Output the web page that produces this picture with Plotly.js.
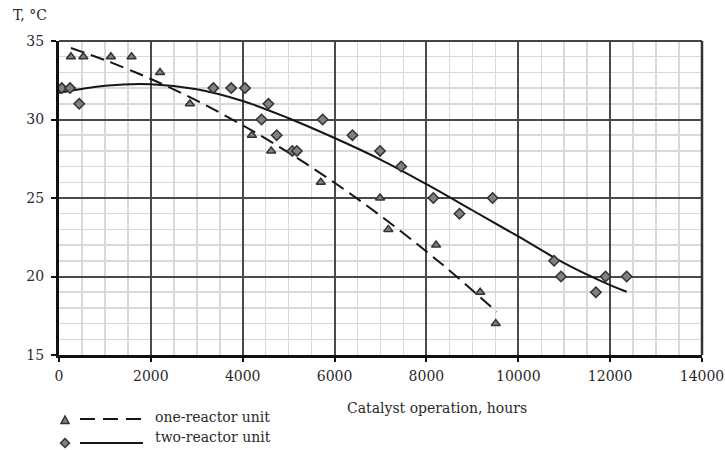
<!DOCTYPE html>
<html>
<head>
<meta charset="utf-8">
<script src="https://cdn.plot.ly/plotly-3.0.1.min.js"></script>
<style>html,body{margin:0;padding:0;background:#fff;}#chart{width:725px;height:450px;}</style>
</head>
<body>
<div id="chart"></div>
<script>
// Measured points: one-reactor unit
var oneHours = [260, 530, 1130, 1580, 2200, 2850, 4200, 4620, 5700, 6990, 7170, 8210, 9170, 9510];
var oneTemp  = [34, 34, 34, 34, 33, 31, 29, 28, 26, 25, 23, 22, 19, 17];
// Measured points: two-reactor unit
var twoHours = [60, 240, 440, 3360, 3750, 4050, 4410, 4560, 4740, 5080, 5180, 5740, 6390, 6990, 7450, 8150, 8720, 9440, 10780, 10930, 11690, 11900, 12360];
var twoTemp  = [32, 32, 31, 32, 32, 32, 30, 31, 29, 28, 28, 30, 29, 28, 27, 25, 24, 25, 21, 20, 19, 20, 20];
// Trend line: one-reactor unit (dashed)
var oneTrendHours = [260, 1000, 2000, 3000, 4000, 5000, 6000, 7000, 8000, 8700, 9530];
var oneTrendTemp  = [34.55, 33.78, 32.58, 31.2, 29.63, 27.89, 25.97, 23.87, 21.59, 19.89, 17.75];
// Trend line: two-reactor unit (solid)
var twoTrendHours = [0, 1000, 2000, 3000, 4000, 5000, 6000, 7000, 8000, 9000, 10000, 11000, 12000, 12360];
var twoTrendTemp  = [31.7, 32.15, 32.25, 31.93, 31.18, 30.08, 28.82, 27.45, 25.88, 24.22, 22.55, 20.85, 19.45, 19.03];
// Axis ticks and text
var xTicks = [0, 2000, 4000, 6000, 8000, 10000, 12000, 14000];
var yTicks = [15, 20, 25, 30, 35];
var seriesNames = ["one-reactor unit", "two-reactor unit"];
var xTitle = "Catalyst operation, hours";
var yTitle = "T, °C";

var FONT = "DejaVu Serif";
var FS = 14;
var markerFill = "#808080", markerLine = "#333333", lineCol = "#161616";
var TXT = "#2a2a2a";

var traces = [
  {x: oneTrendHours, y: oneTrendTemp, mode: "lines", line: {color: lineCol, width: 2, dash: "14px,7px", shape: "spline", smoothing: 1}, hoverinfo: "skip", showlegend: false},
  {x: twoTrendHours, y: twoTrendTemp, mode: "lines", line: {color: lineCol, width: 2, shape: "spline", smoothing: 1}, hoverinfo: "skip", showlegend: false},
  {x: oneHours, y: oneTemp, mode: "markers", name: seriesNames[0], marker: {symbol: "triangle-up", size: 8, color: markerFill, line: {color: markerLine, width: 1.5}}, showlegend: false},
  {x: twoHours, y: twoTemp, mode: "markers", name: seriesNames[1], marker: {symbol: "diamond", size: 8, color: markerFill, line: {color: markerLine, width: 1.5}}, showlegend: false}
];

// layout helpers (pixel -> paper), plot area: x 59..702, y 41..355
function px(x){ return (x - 59) / 643; }
function py(y){ return (355 - y) / 314; }

var layout = {
  width: 725, height: 450,
  margin: {l: 59, r: 23, t: 41, b: 95},
  paper_bgcolor: "#fff", plot_bgcolor: "#fff",
  showlegend: false,
  font: {family: FONT, size: FS, color: TXT},
  xaxis: {
    range: [0, 14000], tickvals: xTicks, ticktext: xTicks.map(String),
    showgrid: true, gridcolor: "#4a4a4a", gridwidth: 2,
    minor: {dtick: 500, tick0: 0, showgrid: true, gridcolor: "#d9d9d9", gridwidth: 1.5},
    zeroline: false, showline: true, linecolor: "#111", linewidth: 3,
    ticks: "outside", ticklen: 4, tickwidth: 2, tickcolor: "#111",
    ticklabelstandoff: 2,
    tickfont: {family: FONT, size: FS, color: TXT}
  },
  yaxis: {
    range: [15, 35], tickvals: yTicks, ticktext: yTicks.map(String),
    showgrid: true, gridcolor: "#4a4a4a", gridwidth: 2,
    minor: {dtick: 1, tick0: 15, showgrid: true, gridcolor: "#d9d9d9", gridwidth: 1.5},
    zeroline: false, showline: true, linecolor: "#111", linewidth: 3,
    ticks: "outside", ticklen: 5, tickwidth: 2, tickcolor: "#111",
    ticklabelstandoff: 4,
    tickfont: {family: FONT, size: FS, color: TXT}
  },
  shapes: [
    {type: "line", xref: "paper", yref: "paper", x0: 0, x1: 1, y0: 1, y1: 1, line: {color: "#444", width: 2}},
    {type: "line", xref: "paper", yref: "paper", x0: 1, x1: 1, y0: 0, y1: 1, line: {color: "#333", width: 2.5}},
    // legend samples
    {type: "line", xref: "paper", yref: "paper", x0: px(80), x1: px(143), y0: py(419), y1: py(419), line: {color: lineCol, width: 2, dash: "15px,8px"}},
    {type: "line", xref: "paper", yref: "paper", x0: px(80), x1: px(143), y0: py(443), y1: py(443), line: {color: lineCol, width: 2}},
    {type: "path", xref: "paper", yref: "paper", xsizemode: "pixel", ysizemode: "pixel", xanchor: px(65), yanchor: py(420),
      path: "M -4 -3.5 L 4 -3.5 L 0 4 Z", fillcolor: markerFill, line: {color: markerLine, width: 1.5}},
    {type: "path", xref: "paper", yref: "paper", xsizemode: "pixel", ysizemode: "pixel", xanchor: px(65), yanchor: py(443),
      path: "M -4.5 0 L 0 4.5 L 4.5 0 L 0 -4.5 Z", fillcolor: markerFill, line: {color: markerLine, width: 1.5}}
  ],
  annotations: [
    {text: yTitle, xref: "paper", yref: "paper", x: px(11), y: py(15), xanchor: "left", yanchor: "middle", showarrow: false, font: {family: FONT, size: FS, color: TXT}},
    {text: xTitle, xref: "paper", yref: "paper", x: px(437), y: py(408), xanchor: "center", yanchor: "middle", showarrow: false, font: {family: FONT, size: FS, color: TXT}},
    {text: seriesNames[0], xref: "paper", yref: "paper", x: px(153), y: py(417), xanchor: "left", yanchor: "middle", showarrow: false, font: {family: FONT, size: FS, color: TXT}},
    {text: seriesNames[1], xref: "paper", yref: "paper", x: px(153), y: py(437), xanchor: "left", yanchor: "middle", showarrow: false, font: {family: FONT, size: FS, color: TXT}}
  ]
};

Plotly.newPlot("chart", traces, layout, {displayModeBar: false, staticPlot: true});
</script>
</body>
</html>
